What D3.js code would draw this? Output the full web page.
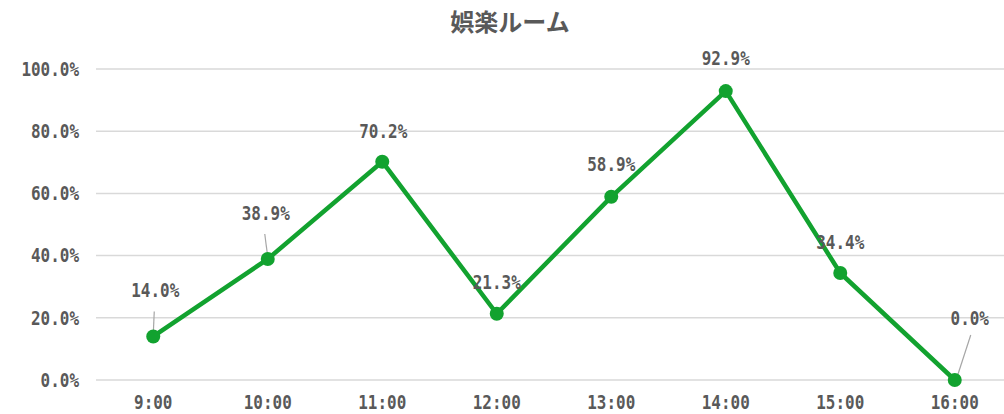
<!DOCTYPE html>
<html>
<head>
<meta charset="utf-8">
<script src="https://cdn.jsdelivr.net/npm/d3@7"></script>
<style>
  body { margin: 0; background: #fff; }
  #canvas { width: 1004px; height: 414px; }
  .mono { font-family: "DejaVu Sans Mono", monospace; fill: #595959; font-weight: bold; }
</style>
</head>
<body>
<div id="canvas" class="canvas"></div>
<script>
// data
var hours = ['9:00','10:00','11:00','12:00','13:00','14:00','15:00','16:00'];
var rates = [14.0, 38.9, 70.2, 21.3, 58.9, 92.9, 34.4, 0.0];
var yTicks = [0, 20, 40, 60, 80, 100];
var title = '娯楽ルーム';

// label nudges (px from the point) and which ones get a leader line
var labelShift = [[2,-46],[-2,-46],[1,-31],[0,-32],[0,-33],[0,-33],[0,-31],[15,-62]];
var leader = [true, true, false, false, false, false, false, true];

var W = 1004, H = 414;
var m = {t:69, r:0, b:34, l:96};   // plot area 96..1012 (runs past the right edge like the source)

var svg = d3.select('.canvas').append('svg')
    .attr('width', W).attr('height', H);

var x = d3.scalePoint().domain(hours).range([m.l, 1012]).padding(0.5);
var y = d3.scaleLinear().domain([0, 100]).range([380, 69]);

var green = '#12a22f';
var charW = 9.6;

function mono(sel, size){
    sel.attr('class','mono').style('font-size', size + 'px')
        .attr('textLength', function(d){ return this.textContent.length * charW; })
        .attr('lengthAdjust','spacingAndGlyphs');
}

// title
svg.append('text')
    .attr('x', 510).attr('y', 23).attr('dy','0.35em')
    .attr('text-anchor','middle')
    .style('font-family','"Noto Sans CJK JP", sans-serif')
    .style('font-size','24px').style('font-weight','bold')
    .style('fill','#595959')
    .text(title);

// gridlines
svg.append('g').selectAll('line')
    .data(yTicks).enter().append('line')
    .attr('x1', m.l).attr('x2', 1012)
    .attr('y1', function(d){ return y(d); }).attr('y2', function(d){ return y(d); })
    .style('stroke','#d9d9d9').style('stroke-width', 1.5);

// y tick labels
svg.append('g').selectAll('text')
    .data(yTicks).enter().append('text')
    .attr('x', 79).attr('y', function(d){ return y(d); }).attr('dy','0.36em')
    .attr('text-anchor','end')
    .text(function(d){ return d.toFixed(1) + '%'; })
    .call(mono, 19);

// x tick labels
svg.append('g').selectAll('text')
    .data(hours).enter().append('text')
    .attr('x', function(d){ return x(d); }).attr('y', 402).attr('dy','0.36em')
    .attr('text-anchor','middle')
    .text(function(d){ return d; })
    .call(mono, 19);

// line
var line = d3.line()
    .x(function(d,i){ return x(hours[i]); })
    .y(function(d){ return y(d); });

svg.append('path').datum(rates)
    .attr('d', line)
    .style('fill','none').style('stroke', green)
    .style('stroke-width', 4.5).style('stroke-linejoin','round');

// leader lines
svg.append('g').selectAll('line')
    .data(rates.map(function(v,i){ return i; }).filter(function(i){ return leader[i]; }))
    .enter().append('line')
    .attr('x1', function(i){ return x(hours[i]) + labelShift[i][0] - (i==7 ? -1 : 1); })
    .attr('y1', function(i){ return y(rates[i]) + labelShift[i][1] + (i==7 ? 17 : 21); })
    .attr('x2', function(i){ return x(hours[i]) + (i==7 ? 2 : 0); })
    .attr('y2', function(i){ return y(rates[i]) - 2; })
    .style('stroke','#a6a6a6').style('stroke-width', 1.2);

// markers
svg.append('g').selectAll('circle')
    .data(rates).enter().append('circle')
    .attr('cx', function(d,i){ return x(hours[i]); })
    .attr('cy', function(d){ return y(d); })
    .attr('r', 7)
    .style('fill', green);

// data labels
svg.append('g').selectAll('text')
    .data(rates).enter().append('text')
    .attr('x', function(d,i){ return x(hours[i]) + labelShift[i][0]; })
    .attr('y', function(d,i){ return y(d) + labelShift[i][1]; }).attr('dy','0.36em')
    .attr('text-anchor','middle')
    .text(function(d){ return d.toFixed(1) + '%'; })
    .call(mono, 19);
</script>
</body>
</html>
